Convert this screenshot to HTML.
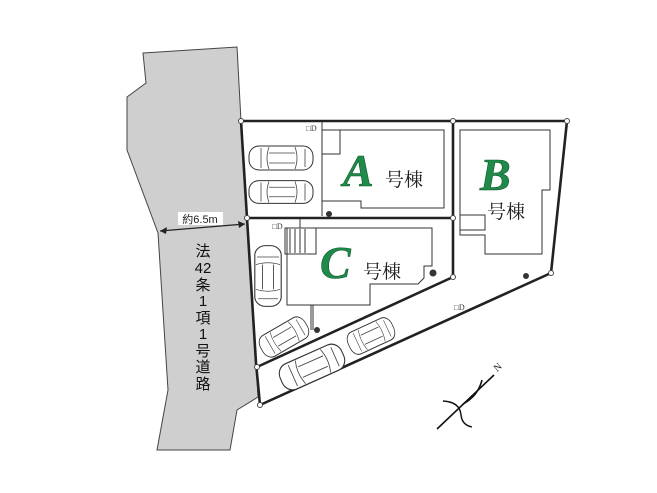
<!DOCTYPE html>
<html><head><meta charset="utf-8"><style>
html,body{margin:0;padding:0;background:#fff;}
svg{display:block;}
.j{font-family:"Liberation Serif","Noto Serif CJK SC",serif;fill:#222;}
.L{font-family:"Liberation Serif",serif;font-style:italic;font-weight:bold;fill:#1f8a4a;stroke:#0d5a2c;stroke-width:0.6;}
.car{fill:#fff;stroke:#333;stroke-width:1;}
</style></head><body>
<svg width="657" height="493" viewBox="0 0 657 493" xmlns="http://www.w3.org/2000/svg">
<defs>
<g id="car">
<rect class="car" x="-32" y="-12" width="64" height="24" rx="10"/>
<path d="M-12,-11 Q-16,0 -12,11 M14,-11 Q18,0 14,11 M-20,-10 L-20,10 M24,-9 L24,9 M-12,-5 L14,-5 M-12,5 L14,5" fill="none" stroke="#444" stroke-width="0.8"/>
</g>
</defs>
<!-- road -->
<polygon points="143,53 237,47 241,121 247,218 256,363 258,397 237,410 230,450 157,450 168,390 158,233 127,150 127,97 146,83" fill="#cfcfcf" stroke="#444" stroke-width="1"/>
<line x1="160" y1="231" x2="245" y2="224" stroke="#222" stroke-width="1.2"/>
<polygon points="160,231 167,227 166,234" fill="#222"/>
<polygon points="245,224 238,221 239,228" fill="#222"/>
<rect x="178" y="212" width="45" height="13" fill="#fff"/>
<text x="200" y="223" font-family="Liberation Sans,sans-serif" font-size="11" text-anchor="middle" fill="#222">約6.5m</text>
<g font-family="Liberation Sans,'Noto Sans CJK JP',sans-serif" font-size="15" fill="#111" text-anchor="middle">
<text x="203" y="256">法</text><text x="203" y="273">42</text><text x="203" y="290">条</text><text x="203" y="306">1</text><text x="203" y="323">項</text><text x="203" y="339">1</text><text x="203" y="356">号</text><text x="203" y="372">道</text><text x="203" y="389">路</text>
</g>
<!-- lot outlines -->
<g fill="none" stroke="#222" stroke-width="2.6" stroke-linejoin="round">
<polyline points="241,121 567,121 551,273 260,405 256,363 247,218 241,121"/>
<line x1="247" y1="218" x2="453" y2="218"/>
<line x1="453" y1="121" x2="453" y2="277"/>
<line x1="453" y1="277" x2="257" y2="367"/>
</g>
<g fill="#fff" stroke="#444" stroke-width="1">
<circle cx="241" cy="121" r="2.5"/><circle cx="453" cy="121" r="2.5"/><circle cx="567" cy="121" r="2.5"/>
<circle cx="247" cy="218" r="2.5"/><circle cx="453" cy="218" r="2.5"/><circle cx="453" cy="277" r="2.5"/>
<circle cx="551" cy="273" r="2.5"/><circle cx="257" cy="367" r="2.5"/><circle cx="260" cy="405" r="2.5"/>
</g>
<!-- buildings -->
<g fill="none" stroke="#333" stroke-width="1">
<polyline points="322,130 444,130 444,208 361,208 361,201 322,201"/>
<line x1="322" y1="122" x2="322" y2="216"/>
<rect x="322" y="130" width="18" height="24"/>
<polygon points="460,130 550,130 550,190 542,190 542,254 485,254 485,235 460,235"/>
<rect x="460" y="215" width="25" height="15"/>
<polygon points="287,228 432,228 432,266 424,266 424,278 418,284 370,284 370,305 287,305"/>
<rect x="285" y="228" width="31" height="26"/>
<path d="M290,229 V253 M295,229 V253 M300,229 V253 M305,229 V253" />
<path d="M300,219 V228 M311,305 V330 M313,305 V330"/>
</g>
<g fill="#333"><circle cx="329" cy="214" r="3"/><circle cx="433" cy="273" r="3.5"/><circle cx="526" cy="276" r="3"/><circle cx="317" cy="330" r="3"/></g>
<g font-family="Liberation Serif,serif" font-size="8" fill="#333"><text x="306" y="131">□D</text><text x="272" y="229">□D</text><text x="454" y="310">□D</text></g>
<!-- cars -->
<use href="#car" transform="translate(281,158)"/>
<use href="#car" transform="translate(281,192) scale(1,0.95)"/>
<use href="#car" transform="translate(268,276) rotate(90) scale(0.95,1.1)"/>
<use href="#car" transform="translate(284,337) rotate(-30) scale(0.8,1)"/>
<use href="#car" transform="translate(312,367) rotate(-24) scale(1.05,1.15)"/>
<use href="#car" transform="translate(371,336) rotate(-25) scale(0.75,1)"/>
<!-- labels -->
<text class="L" x="343" y="186" font-size="46">A</text>
<text class="j" x="385" y="186" font-size="19">号棟</text>
<text class="L" x="480" y="190" font-size="46">B</text>
<text class="j" x="487" y="218" font-size="19">号棟</text>
<text class="L" x="320" y="278" font-size="46">C</text>
<text class="j" x="363" y="278" font-size="19">号棟</text>
<!-- compass -->
<g fill="none" stroke="#111" stroke-width="1.6">
<line x1="437" y1="429" x2="494" y2="375"/>
<path d="M463,404 Q478,396 482,380"/>
<path d="M443,401 Q460,402 461,415 Q462,425 472,427" stroke-width="1.4"/>
</g>
<text x="497" y="372" font-family="Liberation Serif,serif" font-size="10" fill="#222" transform="rotate(-40 497 372)">N</text>
</svg>
</body></html>
